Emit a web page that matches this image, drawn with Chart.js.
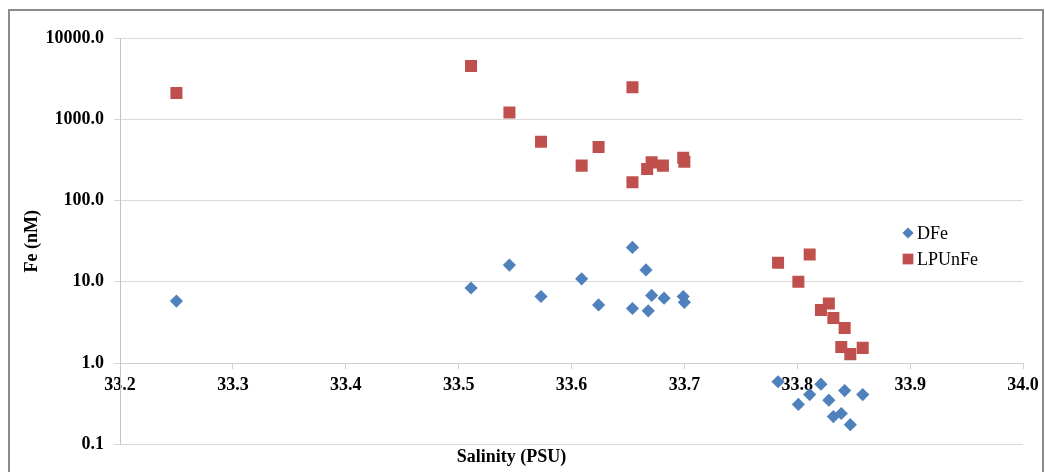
<!DOCTYPE html>
<html>
<head>
<meta charset="utf-8">
<script src="https://cdn.jsdelivr.net/npm/chart.js@4"></script>
<style>
  body { margin: 0; background: #fff; }
  canvas { display: block; }
</style>
</head>
<body>
<canvas id="feChart" width="1045" height="472"></canvas>
<script>
// Dissolved iron (DFe)
const dfeSalinity = [33.25, 33.511, 33.545, 33.573, 33.609, 33.624, 33.654, 33.654, 33.666, 33.668, 33.671, 33.682, 33.699, 33.700,
  33.783, 33.801, 33.811, 33.821, 33.828, 33.832, 33.839, 33.842, 33.847, 33.858];
const dfeValues = [5.8, 8.4, 16.1, 6.6, 10.9, 5.2, 26.5, 4.7, 14.0, 4.4, 6.8, 6.3, 6.6, 5.6,
  0.59, 0.31, 0.41, 0.55, 0.35, 0.22, 0.24, 0.46, 0.175, 0.41];

// Leachable particulate unfiltered iron (LPUnFe)
const lpSalinity = [33.25, 33.511, 33.545, 33.573, 33.609, 33.624, 33.654, 33.654, 33.667, 33.671, 33.681, 33.699, 33.700,
  33.783, 33.811, 33.801, 33.821, 33.828, 33.832, 33.842, 33.839, 33.847, 33.858];
const lpValues = [2100, 4530, 1210, 530, 269, 456, 2480, 168, 245, 295, 269, 337, 301,
  17.2, 21.7, 10.0, 4.5, 5.4, 3.6, 2.7, 1.58, 1.29, 1.54];

const xTickValues = [33.2, 33.3, 33.4, 33.5, 33.6, 33.7, 33.8, 33.9, 34.0];
const yTickValues = [0.1, 1, 10, 100, 1000, 10000];

const seriesNames = ["DFe", "LPUnFe"];
const seriesColors = ["#4F81BD", "#C0504D"];

const serif = "'Liberation Serif', 'Times New Roman', serif";

// grey frame round the whole chart
const framePlugin = {
  id: "frame",
  beforeDraw(chart) {
    const ctx = chart.ctx;
    ctx.save();
    ctx.strokeStyle = "#8c8c8c";
    ctx.lineWidth = 2;
    ctx.strokeRect(9, 10, 1034, 500);
    ctx.restore();
  }
};

// legend sits inside the plot, right hand side
const insideLegend = {
  id: "insideLegend",
  afterDraw(chart) {
    const ctx = chart.ctx;
    const area = chart.chartArea;
    const x0 = area.right - 115;
    const y0 = area.top + 195;
    ctx.save();
    chart.data.datasets.forEach((ds, i) => {
      const y = y0 + i * 26;
      ctx.fillStyle = ds.backgroundColor;
      Chart.helpers.drawPoint(ctx, {
        pointStyle: ds.pointStyle,
        radius: ds.pointStyle === "rect" ? 7.6 : 5.6,
        rotation: 0,
        borderWidth: 0
      }, x0, y);
      ctx.fillStyle = "#000";
      ctx.font = "18px " + serif;
      ctx.textBaseline = "middle";
      ctx.textAlign = "left";
      ctx.fillText(ds.label, x0 + 9, y + 1);
    });
    ctx.restore();
  }
};

const toPoints = (xs, ys) => xs.map((x, i) => ({ x: x, y: ys[i] }));

new Chart(document.getElementById("feChart"), {
  type: "scatter",
  data: {
    datasets: [
      {
        label: seriesNames[0],
        data: toPoints(dfeSalinity, dfeValues),
        pointStyle: "rectRot",
        pointRadius: 6.6,
        pointHoverRadius: 6.6,
        backgroundColor: seriesColors[0],
        borderColor: seriesColors[0],
        borderWidth: 0
      },
      {
        label: seriesNames[1],
        data: toPoints(lpSalinity, lpValues),
        pointStyle: "rect",
        pointRadius: 8.5,
        pointHoverRadius: 8.5,
        backgroundColor: seriesColors[1],
        borderColor: seriesColors[1],
        borderWidth: 0
      }
    ]
  },
  options: {
    responsive: false,
    animation: false,
    layout: { padding: { left: 0, top: 38, right: 22, bottom: 0 } },
    plugins: {
      legend: { display: false },
      tooltip: { enabled: false },
      title: {
        display: true,
        position: "bottom",
        text: "Salinity (PSU)",
        color: "#000",
        font: { family: serif, size: 18, weight: "bold" },
        padding: { top: 2, bottom: 4 }
      }
    },
    scales: {
      x: {
        type: "linear",
        position: { y: 1 },
        min: 33.2,
        max: 34.0,
        afterBuildTicks: (scale) => {
          scale.ticks = xTickValues.map((v) => ({ value: v }));
        },
        grid: {
          drawOnChartArea: false,
          drawTicks: true,
          tickLength: 5,
          color: "#d0d0d0"
        },
        border: { display: true, color: "#d0d0d0", width: 1 },
        ticks: {
          padding: 6,
          maxRotation: 0,
          color: "#000",
          font: { family: serif, size: 18, weight: "bold" },
          callback: (v) => Number(v).toFixed(1)
        }
      },
      y: {
        type: "logarithmic",
        position: "left",
        min: 0.1,
        max: 10000,
        afterBuildTicks: (scale) => {
          scale.ticks = yTickValues.map((v) => ({ value: v }));
        },
        afterFit: (scale) => {
          scale.width = 120;
        },
        grid: {
          color: "#d9d9d9",
          tickLength: 6,
          drawTicks: true
        },
        border: { display: true, color: "#c4c4c4", width: 1 },
        ticks: {
          padding: 10,
          color: "#000",
          font: { family: serif, size: 18, weight: "bold" },
          callback: (v) => Number(v).toFixed(1)
        },
        title: {
          display: true,
          text: "Fe (nM)",
          color: "#000",
          font: { family: serif, size: 18, weight: "bold" },
          padding: { top: 22, bottom: 0 }
        }
      }
    }
  },
  plugins: [framePlugin, insideLegend]
});
</script>
</body>
</html>
